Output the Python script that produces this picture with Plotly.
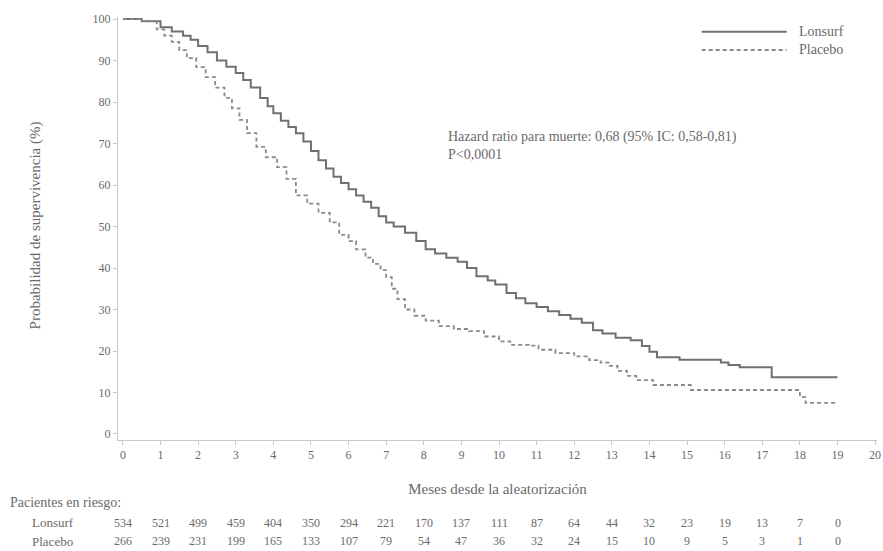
import plotly.graph_objects as go

# ---- data ----
lonsurf_t = [0, 0.5, 1.0, 1.3, 1.6, 1.8, 2.0, 2.25, 2.5, 2.75, 3.0, 3.2, 3.4, 3.65, 3.85, 4.0, 4.2, 4.4,
             4.6, 4.8, 5.0, 5.2, 5.4, 5.6, 5.8, 6.0, 6.2, 6.4, 6.6, 6.8, 7.0, 7.2, 7.5, 7.8, 8.05, 8.3,
             8.6, 8.9, 9.15, 9.4, 9.7, 9.9, 10.2, 10.45, 10.7, 11.0, 11.3, 11.6, 11.9, 12.2, 12.5, 12.75,
             13.1, 13.5, 13.8, 14.0, 14.2, 14.8, 15.9, 16.1, 16.4, 17.25, 19.0]
lonsurf_s = [100, 99.5, 98, 97, 96, 95, 93.5, 92, 90, 88.5, 87, 85.3, 83.5, 81, 79, 77.3, 75.5, 74,
             72.5, 70.5, 68.2, 66, 64, 62, 60.5, 59, 57.5, 56, 54.5, 52.5, 51, 50, 48.5, 46.5, 44.5, 43.5,
             42.5, 41.5, 40, 38, 37, 36, 34, 32.7, 31.5, 30.6, 29.6, 28.7, 27.8, 26.8, 25, 24.2,
             23.2, 22.6, 21.2, 19.8, 18.5, 17.9, 17.2, 16.6, 16.1, 13.7, 13.7]

placebo_t = [0, 0.5, 0.9, 1.1, 1.3, 1.5, 1.7, 1.95, 2.2, 2.45, 2.7, 2.9, 3.1, 3.3, 3.55, 3.8, 4.1, 4.35,
             4.6, 4.9, 5.2, 5.5, 5.75, 6.0, 6.2, 6.45, 6.65, 6.85, 7.0, 7.15, 7.3, 7.5, 7.75, 8.05, 8.4,
             8.8, 9.2, 9.6, 10.0, 10.3, 10.8, 11.05, 11.5, 12.0, 12.4, 12.7, 12.95, 13.15, 13.4, 13.65,
             14.1, 15.1, 18.0, 18.15, 18.95]
placebo_s = [100, 99.5, 97.5, 96, 94.5, 92.5, 90.6, 88.4, 86, 83.5, 81, 78.5, 75.7, 72.5, 69.2, 66.7, 64.3, 61.5,
             57.5, 55.5, 53.3, 51, 48, 46.5, 44.5, 42.5, 41, 39.5, 37.8, 35, 32.5, 30, 28.5, 27.3, 26,
             25.3, 24.8, 23.5, 22.3, 21.5, 21.3, 20.3, 19.5, 18.7, 17.8, 17.2, 16.4, 15.2, 14.0, 13,
             11.8, 10.6, 8.9, 7.5, 7.5]

risk_months = list(range(0, 20))
risk_lonsurf = [534, 521, 499, 459, 404, 350, 294, 221, 170, 137, 111, 87, 64, 44, 32, 23, 19, 13, 7, 0]
risk_placebo = [266, 239, 231, 199, 165, 133, 107, 79, 54, 47, 36, 32, 24, 15, 10, 9, 5, 3, 1, 0]

x_ticks = list(range(0, 21))
y_ticks = list(range(0, 101, 10))

FONT = "Liberation Serif"
TXT = "#6a6a6a"

fig = go.Figure()
fig.add_trace(go.Scatter(x=lonsurf_t, y=lonsurf_s, mode="lines", line_shape="hv",
                         line=dict(color="#707070", width=2), name="Lonsurf", showlegend=False))
fig.add_trace(go.Scatter(x=placebo_t, y=placebo_s, mode="lines", line_shape="hv",
                         line=dict(color="#8a8a8a", width=1.8, dash="4px,3px"), name="Placebo",
                         showlegend=False))

# legend drawn manually
leg = [("Lonsurf", "solid", "#707070", 0.965), ("Placebo", "4px,3px", "#8a8a8a", 0.922)]
for name, dash, col, yy in leg:
    fig.add_shape(type="line", xref="paper", yref="paper", x0=0.769, x1=0.881, y0=yy, y1=yy,
                  line=dict(color=col, width=2 if dash == "solid" else 1.8, dash=dash))
    fig.add_annotation(xref="paper", yref="paper", x=0.895, y=yy, text=name, showarrow=False,
                       xanchor="left", yanchor="middle", font=dict(family=FONT, size=14, color=TXT))

fig.add_annotation(x=8.6, y=69.5, text="Hazard ratio para muerte: 0,68 (95% IC: 0,58-0,81)<br>P<0,0001",
                   showarrow=False, xanchor="left", yanchor="middle", align="left",
                   font=dict(family=FONT, size=14, color=TXT))

# y axis title
fig.add_annotation(xref="paper", yref="paper", x=-0.109, y=0.508, text="Probabilidad de supervivencia (%)",
                   textangle=-90, showarrow=False, xanchor="center", yanchor="middle",
                   font=dict(family=FONT, size=15, color=TXT))

# risk table
fig.add_annotation(xref="paper", yref="paper", x=-0.145, y=-0.147, text="Pacientes en riesgo:",
                   showarrow=False, xanchor="left", yanchor="middle",
                   font=dict(family=FONT, size=14, color=TXT))
for label, vals, yy in [("Lonsurf", risk_lonsurf, -0.196), ("Placebo", risk_placebo, -0.239)]:
    fig.add_annotation(xref="paper", yref="paper", x=-0.116, y=yy, text=label, showarrow=False,
                       xanchor="left", yanchor="middle", font=dict(family=FONT, size=13, color=TXT))
    for m, v in zip(risk_months, vals):
        fig.add_annotation(x=m, xref="x", yref="paper", y=yy, text=str(v), showarrow=False,
                           xanchor="center", yanchor="middle", font=dict(family=FONT, size=12, color=TXT))

fig.update_layout(
    width=883, height=551,
    margin=dict(l=118, r=6, t=17, b=111),
    paper_bgcolor="white", plot_bgcolor="white",
    showlegend=False,
    xaxis=dict(range=[-0.13, 20.05], tickvals=x_ticks, ticktext=[str(v) for v in x_ticks],
               showgrid=False, zeroline=False, showline=True, linecolor="#c8c8c8", linewidth=1,
               ticks="outside", ticklen=4, tickcolor="#c8c8c8", automargin=False,
               tickfont=dict(family=FONT, size=12, color=TXT),
               title=dict(text="Meses desde la aleatorización", standoff=22,
                          font=dict(family=FONT, size=15, color=TXT))),
    yaxis=dict(range=[-1.45, 100.5], tickvals=y_ticks, ticktext=[str(v) for v in y_ticks],
               showgrid=False, zeroline=False, showline=True, linecolor="#c8c8c8", linewidth=1,
               ticks="outside", ticklen=4, tickcolor="#c8c8c8", automargin=False,
               tickfont=dict(family=FONT, size=12, color=TXT)),
)

fig.write_html("out.html", config={"displayModeBar": False},
               post_script="document.body.style.margin='0px';")
